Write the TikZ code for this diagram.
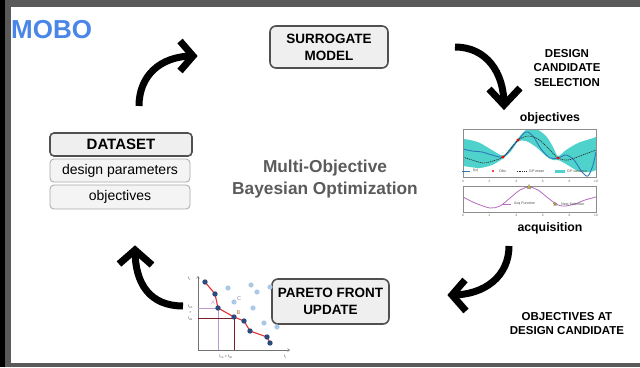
\documentclass[tikz,border=0pt]{standalone}
\usepackage{fontspec}
\setmainfont{Liberation Sans}
\usetikzlibrary{arrows.meta,shapes.geometric}
\definecolor{framegray}{HTML}{5A5A5A}
\definecolor{mobo}{HTML}{4A86E8}
\definecolor{boxfill}{HTML}{EFEFEF}
\definecolor{boxdraw}{HTML}{505050}
\definecolor{subdraw}{HTML}{A8A8A8}
\definecolor{subfill}{HTML}{F4F4F4}
\definecolor{titlegray}{HTML}{5B5B5B}
\definecolor{gpband}{HTML}{4FD2CC}
\definecolor{gpblue}{HTML}{2E78B8}
\definecolor{acqpurple}{HTML}{B56CC0}
\definecolor{starcol}{HTML}{C9B52E}
\definecolor{pdark}{HTML}{2C4A7C}
\definecolor{plight}{HTML}{A9C9E6}
\definecolor{pred}{HTML}{E2312F}
\definecolor{ppurple}{HTML}{B79BD0}
\definecolor{pmaroon}{HTML}{7A1F2A}
\definecolor{pbrown}{HTML}{A0703A}
\tikzset{
  mainbox/.style={draw=boxdraw, line width=1.6pt, fill=boxfill, rounded corners=6pt, align=center,
    font=\fontsize{13.5}{17}\selectfont\bfseries, inner sep=0pt},
  subbox/.style={draw=subdraw, line width=0.8pt, fill=subfill, rounded corners=4pt,
    minimum width=140pt, minimum height=23pt, inner sep=0pt, font=\fontsize{14}{16}\selectfont},
  bigarrow/.style={line width=7pt, line cap=butt, line join=miter},
  lbl/.style={font=\fontsize{11.5}{14.5}\selectfont\bfseries, align=center},
  tinytxt/.style={font=\fontsize{3.6}{4}\selectfont, inner sep=0pt, text=black!70},
  ticktxt/.style={font=\fontsize{3.2}{4}\selectfont, inner sep=0pt, text=black!60},
}
\begin{document}
\begin{tikzpicture}[x=1pt,y=-1pt]
\useasboundingbox (0,0) rectangle (640,367);
% frame
\fill[framegray] (0,0) rectangle (640,367);
\fill[black] (0,0) rectangle (5,367);
\fill[white] (11,7) rectangle (640,363);

% title
\node[anchor=west, text=mobo, font=\fontsize{26}{28}\selectfont\bfseries, inner sep=0pt] (mobo) at (11,29.5) {MOBO};

% main boxes
\node[mainbox, minimum width=118pt, minimum height=42pt] (surr) at (329,47) {SURROGATE\\MODEL};
\node[mainbox, minimum width=117pt, minimum height=45pt] (pareto) at (330.5,301.5) {PARETO FRONT\\UPDATE};

% dataset
\node[subbox] (params) at (120,170.5) {design parameters};
\node[subbox, minimum height=24pt] (objs) at (120,197) {objectives};
\node[mainbox, minimum width=142pt, minimum height=23pt, rounded corners=4pt, font=\fontsize{15}{17}\selectfont\bfseries] (dataset) at (121,144.5) {DATASET};

% center title
\node[text=titlegray, font=\fontsize{17.3}{22}\selectfont\bfseries, align=center] (mtitle) at (325,179) {Multi-Objective\\Bayesian Optimization};

% right labels
\node[lbl] (dcs) at (567,68) {DESIGN\\CANDIDATE\\SELECTION};
\node[lbl] (oadc) at (567,323.5) {OBJECTIVES AT\\DESIGN CANDIDATE};
\node[font=\fontsize{12.3}{14}\selectfont\bfseries] (objlbl) at (550,118) {objectives};
\node[font=\fontsize{12.3}{14}\selectfont\bfseries] (acqlbl) at (550,228) {acquisition};

% big curved arrows
\coordinate (a1s) at (139,106); \coordinate (a1t) at (193,56);
\draw[bigarrow] (a1s) .. controls (139,76) and (160,56) .. (a1t);
\draw[bigarrow] (180,41) -- (a1t) -- (180,71);

\coordinate (a2s) at (455,47); \coordinate (a2t) at (504,105);
\draw[bigarrow] (a2s) .. controls (486,47) and (504,72) .. (a2t);
\draw[bigarrow] (489,89) -- (a2t) -- (520,88);

\coordinate (a3s) at (509,246); \coordinate (a3t) at (452,295);
\draw[bigarrow] (a3s) .. controls (509,276) and (485,295) .. (a3t);
\draw[bigarrow] (465,280) -- (a3t) -- (466,311);

\coordinate (a4s) at (183,306); \coordinate (a4t) at (135,250);
\draw[bigarrow] (a4s) .. controls (150,306) and (135,284) .. (a4t);
\draw[bigarrow] (119,264) -- (a4t) -- (152,265);

% GP plot (top)
\begin{scope}
\clip (463,129) rectangle (596,177);
\fill[gpband] plot[smooth] coordinates {(463,139) (470,140) (480,143) (492,150) (503,155.5) (511,147) (518,138.5) (526,130) (536,129) (546,136) (553,147) (558,156) (566,150) (578,143) (590,139) (596,137)}
 -- plot[smooth] coordinates {(596,170) (590,172) (578,171) (566,164) (558,160) (553,160) (546,156) (536,147) (526,141) (518,141.5) (511,151) (503,158.5) (492,165) (480,168) (470,167) (463,166)} -- cycle;
\draw[gpblue, line width=0.9pt] plot[smooth] coordinates {(463,149) (472,151) (482,152) (492,155) (503,157) (511,149) (518,140) (526,132) (533,136) (541,149) (550,158) (558,158) (566,155) (574,160) (582,172) (588,176) (593,165) (596,152)};
\draw[black!85, line width=0.6pt, dash pattern=on 1.2pt off 0.8pt] plot[smooth] coordinates {(463,157) (472,160) (483,163) (493,161) (503,157) (511,148) (518,140) (528,136) (538,139) (548,148) (558,158) (568,160) (580,156) (596,150)};
\end{scope}
\fill[red] (503,157) circle (1.7) (518,140) circle (1.7) (558,158) circle (1.7);
\draw[black!45, line width=0.4pt] (463,129) rectangle (596,177);
% legend top
\draw[gpblue, line width=0.8pt] (462,171) -- (470,171);
\node[tinytxt, anchor=west] (lfx) at (473,171) {f(x)};
\fill[red] (493,171) circle (1.2);
\node[tinytxt, anchor=west] (lobs) at (499,171) {Obs};
\draw[black!85, line width=0.5pt, dash pattern=on 1pt off 0.7pt] (517,171) -- (527,171);
\node[tinytxt, anchor=west] (lmean) at (529,171) {GP mean};
\fill[gpband] (555,169.5) rectangle (565,172.5);
\node[tinytxt, anchor=west] (lvar) at (567,171) {GP variance};
% ticks
\foreach \v [count=\i from 0] in {0,2,4,6,8,10}{
  \node[ticktxt] (tt\i) at ({463+\i*26.6},181) {\v};
  \node[ticktxt] (tb\i) at ({463+\i*26.6},215.5) {\v};
}
% acquisition plot
\draw[black!45, line width=0.4pt] (463,186) rectangle (596,212);
\draw[acqpurple, line width=0.8pt] plot[smooth] coordinates {(463,197) (475,203) (490,208) (500,206) (510,198) (520,190) (529,187) (538,190) (548,198) (558,205) (565,206) (575,204) (585,200) (596,197)};
\node[star, star points=5, star point ratio=2.3, fill=starcol, draw=black!60, line width=0.2pt, inner sep=0pt, minimum size=5pt] (nstar) at (529,187) {};
\draw[acqpurple, line width=0.7pt] (503,204) -- (511,204);
\node[tinytxt, anchor=west] (lacq) at (514,204) {Acq Function};
\node[star, star points=5, star point ratio=2.3, fill=starcol, draw=black!60, line width=0.2pt, inner sep=0pt, minimum size=4pt] (lstar) at (555,204) {};
\node[tinytxt, anchor=west] (lnext) at (561,204) {Next Selection};

% Pareto plot
\draw[black!55, line width=0.5pt, -{Straight Barb[length=2pt,width=3pt]}] (198,350) -- (198,276);
\draw[black!55, line width=0.5pt, -{Straight Barb[length=2pt,width=3pt]}] (198,350) -- (290,350);
\draw[ppurple, line width=0.8pt] (198,308) -- (218,308) -- (218,350);
\draw[pmaroon, line width=0.8pt] (198,318) -- (234,318) -- (234,350);
\foreach \p in {(228,288),(251,285),(257,292),(234,302),(253,308),(264,323),(277,327),(270,287)}
  \fill[plight] \p circle (2.6);
\draw[pred, line width=1.1pt] (205,282) -- (215,294) -- (218,308) -- (234,317) -- (244,321) -- (250,331) -- (267,337) -- (270,343);
\foreach \p in {(205,282),(215,294),(218,308),(234,317),(244,321),(250,331),(267,337),(270,343)}
  \fill[pdark] \p circle (2.7);
\node[font=\fontsize{5.5}{6}\selectfont, text=ppurple, inner sep=0pt] (pa) at (213,303) {A};
\node[font=\fontsize{5.5}{6}\selectfont, text=pbrown, inner sep=0pt] (pb) at (238.5,313) {B};
\node[font=\fontsize{5.5}{6}\selectfont, text=ppurple!80!black, inner sep=0pt] (pc) at (239,298.5) {C};
\node[tinytxt] (f2) at (189.5,278.5) {f\textsubscript{2}};
\node[tinytxt] (f1) at (285.5,357) {f\textsubscript{1}};
\node[tinytxt] (f2a) at (190.5,307) {f\textsubscript{2A}};
\node[tinytxt] (gt) at (190.5,312.5) {>};
\node[tinytxt] (f2b) at (190.5,319) {f\textsubscript{2B}};
\node[tinytxt] (f1ab) at (226,357) {f\textsubscript{1A} < f\textsubscript{1B}};
\end{tikzpicture}
\end{document}
